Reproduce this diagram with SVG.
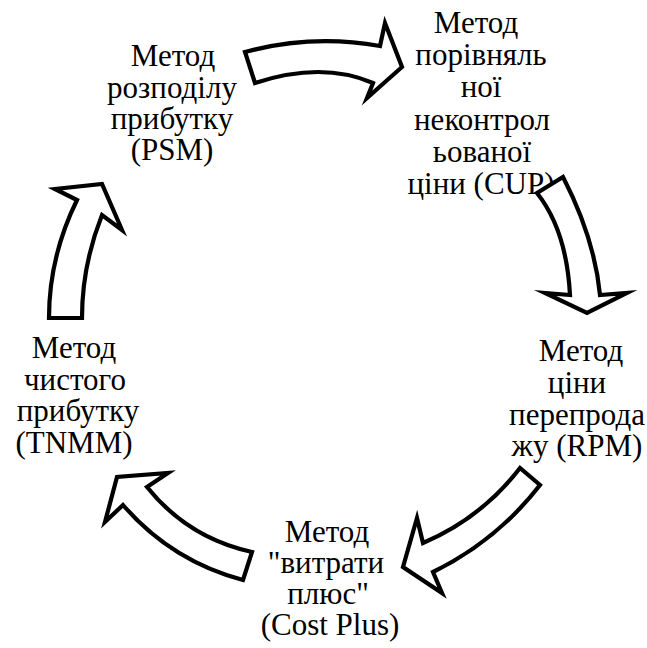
<svg xmlns="http://www.w3.org/2000/svg" width="647" height="648" viewBox="0 0 647 648">
<style>
text{font-family:'Liberation Serif','Times New Roman',serif;font-size:31px;fill:#000;text-anchor:middle}
.arr{fill:#fff;stroke:#000;stroke-width:4.2;stroke-linejoin:miter;stroke-miterlimit:10}
</style>
<rect width="647" height="648" fill="#fff"/>
<g id="node-psm">
<text x="173" y="66">Метод</text>
<text x="172" y="97.5">розподілу</text>
<text x="172" y="129">прибутку</text>
<text x="172" y="160">(PSM)</text>
</g>
<g id="node-cup">
<text x="476" y="33">Метод</text>
<text x="481" y="65">порівняль</text>
<text x="481" y="97">ної</text>
<text x="482" y="130">неконтрол</text>
<text x="482" y="162">ьованої</text>
<text x="481" y="194">ціни (CUP)</text>
</g>
<g id="node-rpm">
<text x="581" y="361">Метод</text>
<text x="577" y="393">ціни</text>
<text x="577" y="425">перепрода</text>
<text x="577" y="456">жу (RPM)</text>
</g>
<g id="node-cost">
<text x="327" y="542">Метод</text>
<text x="326" y="573">"витрати</text>
<text x="328" y="604">плюс"</text>
<text x="330" y="635">(Cost Plus)</text>
</g>
<g id="node-tnmm">
<text x="74" y="358">Метод</text>
<text x="75" y="390">чистого</text>
<text x="78" y="421">прибутку</text>
<text x="74" y="453">(TNMM)</text>
</g>
<g id="connectors">
<path class="arr" d="M245,52 Q312,34 380,46 L385,23 L402,67 L367,98 L373,83 Q322,61 255,83 Z"/>
<path class="arr" d="M563,177 Q594.5,238 600,295 L627,293 L587,313 L545,293 L570,295 Q566.5,230 537,193 Z"/>
<path class="arr" d="M540,485 Q496.6,541 433,572 L442,593 L403,567 L417,518 L423,543 Q481.6,518 520,468 Z"/>
<path class="arr" d="M252,552 Q188,538 147,487 L168,473 L117,477 L105,522 L123,505 Q171.4,561 243,580 Z"/>
<path class="arr" d="M49,318 Q49,257 77,200 L55,189 L102,184 L122,230 L102,215 Q82,265.5 82,318 Z"/>
</g>
</svg>
